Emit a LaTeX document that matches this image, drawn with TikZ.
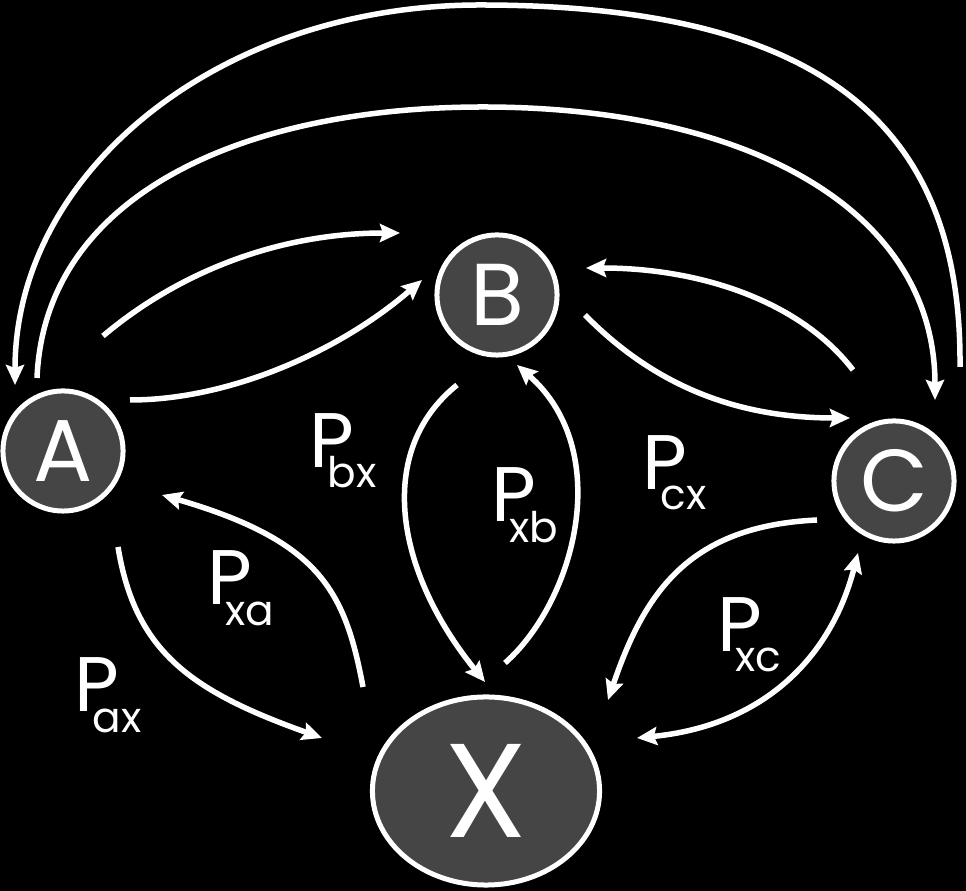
\documentclass[tikz,border=0pt]{standalone}
\usepackage{fontspec}
\setmainfont{Poppins}
\usetikzlibrary{arrows.meta,shapes.geometric}
\definecolor{nodefill}{gray}{0.27}
\newcommand{\plab}[1]{\rlap{P}\hspace{0.18cm}\raisebox{-0.2cm}{\fontsize{12}{12}\selectfont #1}}

\begin{document}
\begin{tikzpicture}[x=0.01cm, y=0.01cm,
    state/.style={circle, draw=white, line width=0.05cm, fill=nodefill, text=white,
        minimum size=1.2cm, inner sep=0pt, font=\fontsize{25}{25}\selectfont},
    arr/.style={draw=white, line width=0.055cm,
        -{Stealth[length=0.2cm, width=0.18cm, inset=0.03cm]}},
    lab/.style={text=white, anchor=base west, inner sep=0pt, font=\fontsize{22}{22}\selectfont}]
    \fill[black] (0,0) rectangle (966,891);
    \useasboundingbox (0,0) rectangle (966,891);

    \node[state] (A) at (63,440) {A};
    \node[state] (B) at (497,596) {B};
    \node[state] (C) at (894,410) {C};
    \node[state, ellipse, minimum width=2.27cm, minimum height=1.88cm,
        font=\fontsize{38}{38}\selectfont] (X) at (486,100) {X};

    % long arcs over the top
    \draw[arr] ([shift={(66,114)}]C.center) .. controls (962,760) and (830,886) .. (480,886)
        .. controls (220,886) and (15,720) .. ([shift={(-48,66)}]A.center);
    \draw[arr] ([shift={(-26,73)}]A.center) .. controls (45,700) and (250,784) .. (483,784)
        .. controls (750,784) and (935,680) .. ([shift={(41,81)}]C.center);

    % A <-> B <-> C
    \draw[arr] ([shift={(40,115)}]A.center) .. controls (180,620) and (280,658) .. ([shift={(-97,62)}]B.center);
    \draw[arr] ([shift={(67,51)}]A.center) .. controls (230,491) and (340,540) .. ([shift={(-75,15)}]B.center);
    \draw[arr] ([shift={(-41,111)}]C.center) .. controls (800,590) and (700,623) .. ([shift={(89,27)}]B.center);
    \draw[arr] ([shift={(88,-20)}]B.center) .. controls (650,510) and (730,473) .. ([shift={(-44,63)}]C.center);

    % to and from X
    \draw[arr] ([shift={(-40,-90)}]B.center) .. controls (375,440) and (395,320) .. ([shift={(-1,109)}]X.center);
    \draw[arr] ([shift={(19,128)}]X.center) .. controls (575,290) and (615,440) .. ([shift={(20,-70)}]B.center);
    \draw[arr] ([shift={(55,-96)}]A.center) .. controls (135,240) and (190,200) .. ([shift={(-164,53)}]X.center);
    \draw[arr] ([shift={(-123,104)}]X.center) .. controls (345,300) and (320,350) .. ([shift={(99,-44)}]A.center);
    \draw[arr] ([shift={(-77,-39)}]C.center) .. controls (690,365) and (645,300) .. ([shift={(122,91)}]X.center);
    \draw[arr, {Stealth[length=0.2cm, width=0.18cm, inset=0.03cm]}-{Stealth[length=0.2cm, width=0.18cm, inset=0.03cm]}]
        ([shift={(151,53)}]X.center) .. controls (760,165) and (830,230) .. ([shift={(-36,-72)}]C.center);

    \node[lab] (pbx) at (309,423) {\plab{bx}};
    \node[lab] (pxb) at (491,369) {\plab{xb}};
    \node[lab] (pcx) at (642,401) {\plab{cx}};
    \node[lab] (pxa) at (207,286) {\plab{xa}};
    \node[lab] (pxc) at (717,239) {\plab{xc}};
    \node[lab] (pax) at (74,179) {\plab{ax}};
\end{tikzpicture}
\end{document}
